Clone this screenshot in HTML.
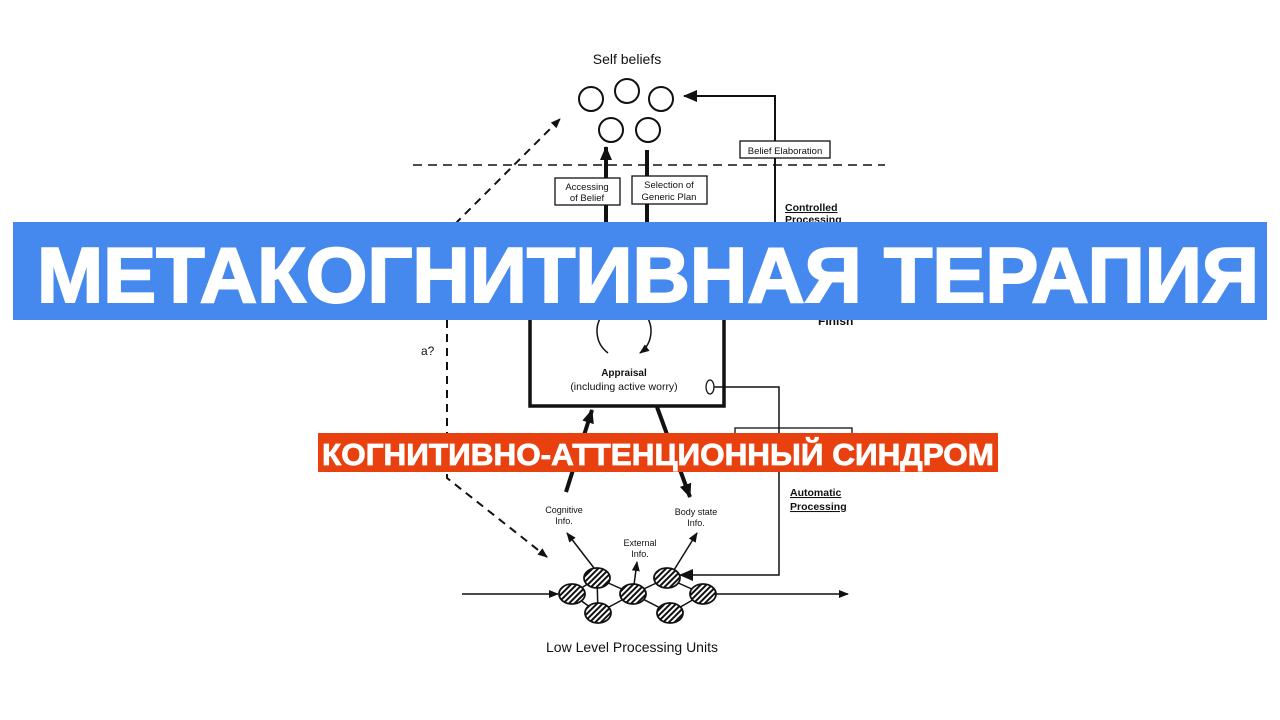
<!DOCTYPE html>
<html><head><meta charset="utf-8"><style>
html,body{margin:0;padding:0;background:#fff;width:1280px;height:720px;overflow:hidden}
svg{display:block}
text{font-family:"Liberation Sans",Arial,sans-serif;fill:#111}
</style></head><body>
<svg width="1280" height="720" viewBox="0 0 1280 720" xmlns="http://www.w3.org/2000/svg">
<defs>
<pattern id="h" width="4" height="4" patternUnits="userSpaceOnUse" patternTransform="rotate(45)">
<rect width="4" height="4" fill="#fff"/><rect width="2" height="4" fill="#111"/></pattern>
<marker id="a" markerWidth="10" markerHeight="8" refX="9" refY="4" orient="auto" markerUnits="userSpaceOnUse"><path d="M0,0 L10,4 L0,8 Z" fill="#111"/></marker>
<marker id="ab" markerWidth="14" markerHeight="12" refX="13" refY="6" orient="auto" markerUnits="userSpaceOnUse"><path d="M0,0 L14,6 L0,12 Z" fill="#111"/></marker>
</defs>
<g stroke="#111" fill="none">
<g stroke-width="2">
<circle cx="591" cy="99" r="12"/><circle cx="627" cy="91" r="12"/><circle cx="661" cy="99" r="12"/>
<circle cx="611" cy="130" r="12"/><circle cx="648" cy="130" r="12"/></g>
<path d="M775,222 V96 H684" stroke-width="2" marker-end="url(#ab)"/>
<line x1="413" y1="165" x2="885" y2="165" stroke-width="1.5" stroke-dasharray="9,6"/>
<line x1="455" y1="224" x2="560" y2="119" stroke-width="2" stroke-dasharray="8,6" marker-end="url(#a)"/>
<path d="M447,320 V478 L547,557" stroke-width="2" stroke-dasharray="8,6" marker-end="url(#a)"/>
<line x1="606" y1="222" x2="606" y2="147" stroke-width="4" marker-end="url(#ab)"/>
<line x1="647" y1="150" x2="647" y2="222" stroke-width="4"/>
<rect x="740" y="141" width="90" height="17" fill="#fff" stroke-width="1.3"/>
<rect x="555" y="178" width="65" height="27" fill="#fff" stroke-width="1.3"/>
<rect x="632" y="176" width="75" height="28" fill="#fff" stroke-width="1.3"/>
<rect x="530" y="318" width="194" height="88" stroke-width="3.5"/>
<path d="M608,353 A27,27 0 1 1 640,353" stroke-width="1.5" marker-end="url(#a)"/>
<ellipse cx="710" cy="387" rx="4" ry="7" stroke-width="1.3"/>
<path d="M714,387 H779 V433" stroke-width="1.5"/>
<rect x="735" y="428" width="117" height="10" stroke-width="1.3"/>
<path d="M779,472 V575 H680" stroke-width="1.5" marker-end="url(#ab)"/>
<line x1="798" y1="318" x2="812" y2="318" stroke-width="2"/>
<line x1="566" y1="492" x2="592" y2="410" stroke-width="4" marker-end="url(#ab)"/>
<line x1="657" y1="407" x2="690" y2="497" stroke-width="4" marker-end="url(#ab)"/>
<line x1="594" y1="568" x2="567" y2="533" stroke-width="1.5" marker-end="url(#a)"/>
<line x1="674" y1="570" x2="697" y2="533" stroke-width="1.5" marker-end="url(#a)"/>
<line x1="634" y1="585" x2="637" y2="562" stroke-width="1.5" marker-end="url(#a)"/>
<line x1="462" y1="594" x2="558" y2="594" stroke-width="1.5" marker-end="url(#a)"/>
<line x1="716" y1="594" x2="848" y2="594" stroke-width="1.5" marker-end="url(#a)"/>
<g stroke-width="1.5">
<line x1="597" y1="578" x2="572" y2="594"/><line x1="572" y1="594" x2="598" y2="613"/>
<line x1="597" y1="578" x2="598" y2="613"/><line x1="597" y1="578" x2="633" y2="594"/>
<line x1="598" y1="613" x2="633" y2="594"/><line x1="633" y1="594" x2="667" y2="578"/>
<line x1="633" y1="594" x2="670" y2="613"/><line x1="667" y1="578" x2="703" y2="594"/>
<line x1="670" y1="613" x2="703" y2="594"/></g>
<g fill="url(#h)" stroke-width="1.8">
<ellipse cx="597" cy="578" rx="13" ry="10"/><ellipse cx="572" cy="594" rx="13" ry="10"/>
<ellipse cx="598" cy="613" rx="13" ry="10"/><ellipse cx="633" cy="594" rx="13" ry="10"/>
<ellipse cx="667" cy="578" rx="13" ry="10"/><ellipse cx="703" cy="594" rx="13" ry="10"/>
<ellipse cx="670" cy="613" rx="13" ry="10"/></g>
</g>
<text x="627" y="64" font-size="14" text-anchor="middle">Self beliefs</text>
<text x="785" y="154" font-size="9.5" text-anchor="middle">Belief Elaboration</text>
<text x="587" y="190" font-size="9.5" text-anchor="middle">Accessing</text>
<text x="587" y="201" font-size="9.5" text-anchor="middle">of Belief</text>
<text x="669" y="188" font-size="9.5" text-anchor="middle">Selection of</text>
<text x="669" y="200" font-size="9.5" text-anchor="middle">Generic Plan</text>
<text x="785" y="211" font-size="10.5" font-weight="bold" text-decoration="underline">Controlled</text>
<text x="785" y="223" font-size="10.5" font-weight="bold" text-decoration="underline">Processing</text>
<text x="818" y="325" font-size="12" font-weight="bold">Finish</text>
<text x="421" y="355" font-size="12">a?</text>
<text x="624" y="376" font-size="10" font-weight="bold" text-anchor="middle">Appraisal</text>
<text x="624" y="390" font-size="10.5" text-anchor="middle">(including active worry)</text>
<text x="790" y="496" font-size="10.5" font-weight="bold" text-decoration="underline">Automatic</text>
<text x="790" y="510" font-size="10.5" font-weight="bold" text-decoration="underline">Processing</text>
<text x="564" y="513" font-size="9" text-anchor="middle">Cognitive</text>
<text x="564" y="524" font-size="9" text-anchor="middle">Info.</text>
<text x="696" y="515" font-size="9" text-anchor="middle">Body state</text>
<text x="696" y="526" font-size="9" text-anchor="middle">Info.</text>
<text x="640" y="546" font-size="9" text-anchor="middle">External</text>
<text x="640" y="557" font-size="9" text-anchor="middle">Info.</text>
<text x="632" y="652" font-size="14" text-anchor="middle">Low Level Processing Units</text>
<rect x="13" y="222" width="1254" height="98" fill="#4689EE"/>
<text x="37" y="302" font-size="78" font-weight="bold" style="fill:#fff;stroke:#fff;stroke-width:2" textLength="1222" lengthAdjust="spacingAndGlyphs">МЕТАКОГНИТИВНАЯ ТЕРАПИЯ</text>
<rect x="318" y="433" width="680" height="39" fill="#E8410F"/>
<text x="322" y="465" font-size="31" font-weight="bold" style="fill:#fff;stroke:#fff;stroke-width:0.8" textLength="672" lengthAdjust="spacingAndGlyphs">КОГНИТИВНО-АТТЕНЦИОННЫЙ СИНДРОМ</text>
</svg>
</body></html>
